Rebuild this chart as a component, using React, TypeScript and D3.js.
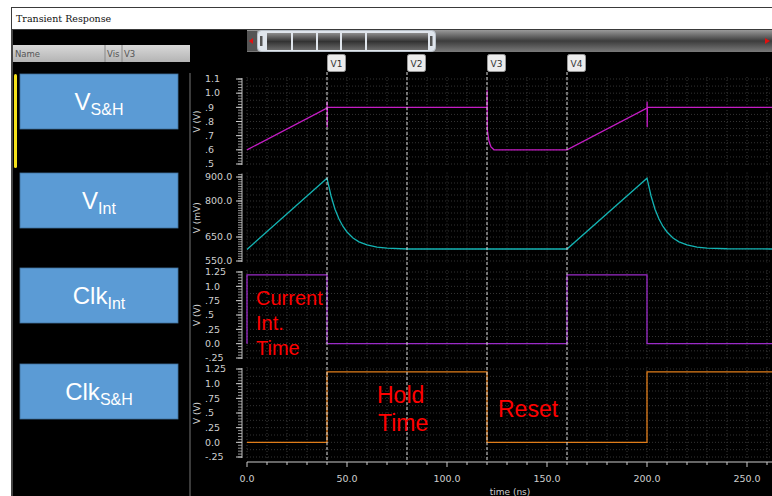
import React from "react";
import * as d3 from "d3";

const cursorNames = ["V1", "V2", "V3", "V4"];
const cursorTimes = [40, 80, 120, 160];
const timeTicks = [0, 50, 100, 150, 200, 250];

const vshT = [0, 40, 40.05, 40.1, 40.2, 120, 120.05, 120.15, 121, 122, 123.5, 160, 200, 200.05, 200.1, 200.2, 265];
const vshV = [0.6, 0.895, 0.94, 0.76, 0.9, 0.9, 1.02, 0.74, 0.66, 0.62, 0.6, 0.6, 0.895, 0.94, 0.76, 0.9, 0.9];

const vintT = [0, 40, 42, 44, 46, 48, 50, 53, 56, 60, 65, 70, 80, 160, 200, 202, 204, 206, 208, 210, 213, 216, 220, 225, 230, 240, 265];
const vintV = [598, 895, 822, 766, 725, 694, 671, 646, 630, 617, 608, 604, 600, 600, 895, 822, 766, 725, 694, 671, 646, 630, 617, 608, 604, 601, 600];

const clkIntT = [0, 0, 40, 40, 160, 160, 200, 200, 265];
const clkIntV = [0, 1.2, 1.2, 0, 0, 1.2, 1.2, 0, 0];

const clkShT = [0, 40, 40, 120, 120, 200, 200, 265];
const clkShV = [0, 0, 1.2, 1.2, 0, 0, 1.2, 1.2];

const p1Ticks = [1.1, 1.0, 0.9, 0.8, 0.7, 0.6, 0.5];
const p1Labels = ["1.1", "1.0", ".9", ".8", ".7", ".6", ".5"];
const p2Ticks = [900, 800, 650, 550];
const p2Labels = ["900.0", "800.0", "650.0", "550.0"];
const clkTicks = [1.25, 1.0, 0.75, 0.5, 0.25, 0, -0.25];
const clkLabels = ["1.25", "1.0", ".75", ".5", ".25", "0.0", "-.25"];

const signalNames = [
  ["V", "S&H"],
  ["V", "Int"],
  ["Clk", "Int"],
  ["Clk", "S&H"],
];

const x = d3.scaleLinear().domain([0, 262.5]).range([247, 772]);

const panels = [
  { t: vshT, v: vshV, domain: [0.5, 1.1], range: [164, 79], ticks: p1Ticks, labels: p1Labels, unit: "V (V)", minor: 0.02, grid: 0.05, color: "#c41cc4" },
  { t: vintT, v: vintV, domain: [550, 910], range: [261, 174.6], ticks: p2Ticks, labels: p2Labels, unit: "V (mV)", minor: 10, grid: 25, color: "#13b3b3" },
  { t: clkIntT, v: clkIntV, domain: [-0.25, 1.25], range: [358, 272], ticks: clkTicks, labels: clkLabels, unit: "V (V)", minor: 0.05, grid: 0.125, color: "#9a2bc8" },
  { t: clkShT, v: clkShV, domain: [-0.25, 1.25], range: [457, 369], ticks: clkTicks, labels: clkLabels, unit: "V (V)", minor: 0.05, grid: 0.125, color: "#e07d1a" },
];

const boxTops = [74, 173, 268, 364];
const sans = "'Liberation Sans', Arial, sans-serif";
const uiFont = "'DejaVu Sans', Verdana, sans-serif";

export default function App() {
  const gridTimes = d3.range(0, 263, 10);
  return (
    <svg width={772} height={496} style={{ position: "absolute", left: 0, top: 0, background: "#fff" }}>
      <defs>
        <linearGradient id="track" x1="0" y1="0" x2="0" y2="1">
          <stop offset="0" stopColor="#9a9a9a" />
          <stop offset="0.5" stopColor="#3c3c3c" />
          <stop offset="1" stopColor="#7a7a7a" />
        </linearGradient>
        <linearGradient id="seg" x1="0" y1="0" x2="0" y2="1">
          <stop offset="0" stopColor="#8c8c8c" />
          <stop offset="0.5" stopColor="#333" />
          <stop offset="1" stopColor="#6a6a6a" />
        </linearGradient>
        <linearGradient id="hdr" x1="0" y1="0" x2="0" y2="1">
          <stop offset="0" stopColor="#d8d8d8" />
          <stop offset="1" stopColor="#b4b4b4" />
        </linearGradient>
      </defs>

      {/* window frame */}
      <rect x={11.5} y={7.5} width={770} height={22} fill="#fff" stroke="#3a3a3a" />
      <text x={16} y={22} fontFamily="'DejaVu Serif', serif" fontSize={9.5} fill="#111">Transient Response</text>
      <rect x={11} y={30} width={761} height={466} fill="#000" />
      <line x1={12} x2={12} y1={30} y2={496} stroke="#8a8a8a" />

      {/* name list */}
      <rect x={13} y={45} width={177} height={17} fill="url(#hdr)" />
      <line x1={105} x2={105} y1={45} y2={62} stroke="#888" />
      <line x1={122} x2={122} y1={45} y2={62} stroke="#888" />
      <text x={15} y={57} fontFamily={uiFont} fontSize={8.5} fill="#555">Name</text>
      <text x={107} y={57} fontFamily={uiFont} fontSize={8.5} fill="#555">Vis</text>
      <text x={124} y={57} fontFamily={uiFont} fontSize={8.5} fill="#555">V3</text>
      <rect x={14} y={74} width={3} height={94} rx={1.5} fill="#f5e21b" />
      <line x1={190} x2={190} y1={73} y2={496} stroke="#777" />
      {signalNames.map((n, i) => (
        <g key={i}>
          <rect x={20} y={boxTops[i]} width={158} height={55} fill="#5b9bd5" stroke="#41719c" strokeWidth={0.8} />
          <text x={99} y={boxTops[i] + 36} textAnchor="middle" fontFamily={sans} fill="#fff">
            <tspan fontSize={24}>{n[0]}</tspan>
            <tspan fontSize={16} dy={5}>{n[1]}</tspan>
          </text>
        </g>
      ))}

      {/* scrollbar */}
      <rect x={247} y={30} width={525} height={22} fill="url(#track)" />
      <rect x={247} y={31} width={10} height={20} fill="#555" />
      <path d="M253,38 L253,44 L249,41 Z" fill="#e01010" />
      <path d="M765,38 L765,44 L770,41 Z" fill="#e01010" />
      <rect x={257.5} y={30.5} width={178} height={21} rx={4} fill="#dfe5ec" stroke="#b8c0c8" />
      {[[267, 291], [293, 316], [318, 340], [342, 365], [367, 428]].map(([a, b], i) => (
        <rect key={i} x={a} y={33} width={b - a} height={17} fill="url(#seg)" />
      ))}
      <rect x={260} y={36} width={2.5} height={10} fill="#555" />
      <rect x={430} y={36} width={2.5} height={10} fill="#555" />

      {/* panels */}
      {panels.map((p, i) => {
        const y = d3.scaleLinear().domain(p.domain).range(p.range);
        const line = d3.line<number>().x((_, k) => x(p.t[k])).y((d) => y(d));
        const minors = d3.range(p.domain[0], p.domain[1] + 1e-9, p.minor);
        const grids = d3.range(p.domain[0], p.domain[1] + 1e-9, p.grid);
        const mid = (p.range[0] + p.range[1]) / 2;
        return (
          <g key={i}>
            {gridTimes.map((t) => (
              <line key={"gx" + t} x1={x(t)} x2={x(t)} y1={p.range[1] - 2} y2={p.range[0] + 2} stroke="#3a3a3a" strokeDasharray="1,2" />
            ))}
            {grids.map((g, k) => (
              <line key={"gy" + k} x1={247} x2={772} y1={y(g)} y2={y(g)} stroke="#333" strokeDasharray="1,2" />
            ))}
            <line x1={242} x2={242} y1={p.range[1] - 1} y2={p.range[0] + 1} stroke="#bbb" />
            {minors.map((m, k) => (
              <line key={"m" + k} x1={238} x2={242} y1={y(m)} y2={y(m)} stroke="#bbb" strokeWidth={0.8} />
            ))}
            {p.ticks.map((tk, k) => (
              <g key={"t" + k}>
                <line x1={236} x2={242} y1={y(tk)} y2={y(tk)} stroke="#ccc" />
                <text x={205} y={y(tk)} dy="0.35em" fontFamily={uiFont} fontSize={9.5} fill="#cfcfcf">{p.labels[k]}</text>
              </g>
            ))}
            <text transform={`translate(200,${mid}) rotate(-90)`} textAnchor="middle" fontFamily={uiFont} fontSize={9} fill="#cfcfcf">{p.unit}</text>
            <path d={line(p.v) || ""} fill="none" stroke={p.color} strokeWidth={1.3} />
          </g>
        );
      })}

      {/* x axis */}
      <line x1={247} x2={772} y1={462} y2={462} stroke="#ccc" />
      {gridTimes.map((t) => (
        <line key={"xt" + t} x1={x(t)} x2={x(t)} y1={462} y2={t % 50 === 0 ? 467 : 465} stroke="#ccc" />
      ))}
      {timeTicks.map((t) => (
        <text key={"xl" + t} x={x(t)} y={482} textAnchor="middle" fontFamily={uiFont} fontSize={9.5} fill="#cfcfcf">{t.toFixed(1)}</text>
      ))}
      <text x={510} y={495} textAnchor="middle" fontFamily={uiFont} fontSize={9} fill="#cfcfcf">time (ns)</text>

      {/* cursors */}
      {cursorTimes.map((t, i) => (
        <g key={"c" + i}>
          <line x1={x(t)} x2={x(t)} y1={72} y2={462} stroke="#d8d8d8" strokeDasharray="3,2" />
          <rect x={x(t) + 0.5} y={54.5} width={18} height={17} rx={2} fill="#ececec" stroke="#9a9a9a" />
          <text x={x(t) + 9.5} y={66.5} textAnchor="middle" fontFamily={uiFont} fontSize={9} fill="#333">{cursorNames[i]}</text>
        </g>
      ))}

      {/* annotations */}
      <g fontFamily={sans} fill="#ff0000">
        <g fontSize={20}>
          <text x={256} y={305}>Current</text>
          <text x={256} y={330}>Int.</text>
          <text x={256} y={355}>Time</text>
        </g>
        <g fontSize={23}>
          <text x={377} y={403}>Hold</text>
          <text x={378} y={431}>Time</text>
          <text x={498} y={417}>Reset</text>
        </g>
      </g>
    </svg>
  );
}
